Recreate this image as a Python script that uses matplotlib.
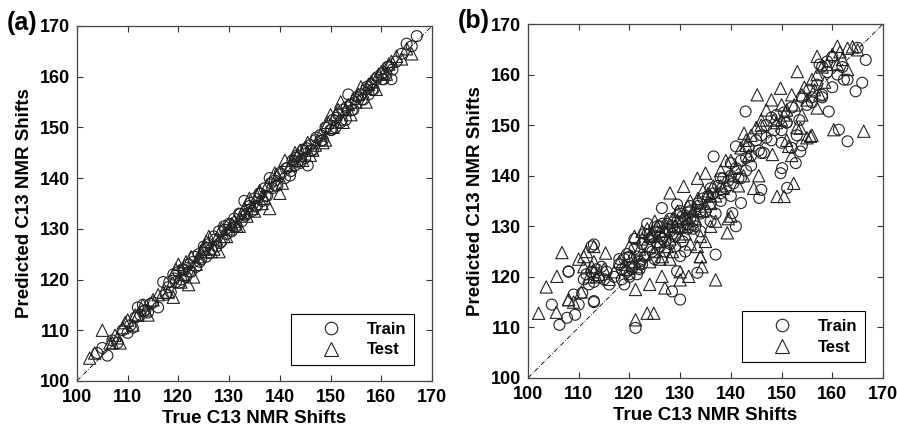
import matplotlib

matplotlib.use("Agg")
import matplotlib.pyplot as plt  # noqa: E402
from matplotlib.lines import Line2D  # noqa: E402

plt.rcParams.update({"font.family": ["Liberation Sans", "DejaVu Sans"],
                     "font.weight": "bold"})

# ---- panel (a): training / test, tight fit ----
a_train_x = [104, 105, 106, 107, 108, 109, 110, 110.5, 111, 111.5, 112, 112.5, 113, 113.5,
             114, 115, 116, 117, 117.5, 118, 118.5, 119, 119.5, 120, 120.5, 121, 121.5, 122,
             122.5, 123, 123.5, 124, 124.5, 125, 125.5, 126, 126.5, 127, 127.5, 128, 128.5,
             129, 129.5, 130, 130.5, 131, 131.5, 132, 132.5, 133, 133.5, 134, 134.5, 135,
             135.5, 136, 136.5, 137, 137.5, 138, 138.5, 139, 139.5, 140, 141, 141.5, 142,
             142.5, 143, 143.5, 144, 144.5, 145, 145.5, 146, 146.5, 147, 148, 148.5, 149, 150,
             150.5, 151, 151.5, 152, 152.5, 153, 153.5, 154, 154.5, 155, 156, 156.5, 157,
             157.5, 158, 158.5, 159, 160, 160.5, 161, 161.5, 162, 163, 164, 165, 166, 167,
             113.2, 114.5, 118.2, 119.2, 120.2, 120.8, 121.2, 122.2, 123.2, 124.2, 125.2,
             126.2, 127.2, 128.2, 129.2, 130.2, 131.2, 132.2, 133.2, 134.2, 135.2, 136.2,
             137.2, 138.2, 139.2, 140.2, 141.2, 142.2, 143.2, 144.2, 145.2, 146.2, 147.2,
             148.2, 149.2, 150.2, 151.2, 152.2, 153.2, 154.2, 155.2, 156.2, 157.2, 158.2,
             159.2, 160.2, 161.2, 162.2]
a_train_y = [105.5, 106.5, 105.0, 108.0, 107.5, 110.0, 109.5, 111.0, 110.5, 112.5, 114.5,
             113.0, 115.0, 114.0, 113.5, 115.5, 114.5, 119.5, 117.0, 118.5, 117.5, 121.0,
             119.5, 121.5, 120.0, 122.0, 120.5, 123.0, 121.5, 123.5, 122.5, 125.0, 124.0,
             126.5, 124.5, 127.0, 126.0, 128.5, 126.5, 129.5, 127.5, 130.5, 129.0, 131.0,
             129.5, 132.0, 130.5, 133.0, 131.5, 135.5, 133.0, 134.5, 133.5, 136.0, 134.5,
             137.0, 135.5, 138.0, 136.5, 140.0, 138.0, 139.5, 138.5, 141.0, 140.0, 142.0,
             140.5, 143.5, 142.5, 144.5, 143.0, 145.5, 144.0, 142.5, 146.5, 145.5, 147.5,
             148.5, 147.5, 150.0, 149.5, 151.5, 150.0, 152.5, 151.0, 153.5, 151.5, 156.5,
             154.5, 153.5, 155.5, 156.5, 155.5, 157.5, 156.5, 158.5, 157.5, 159.5, 160.5,
             159.5, 160.5, 162.0, 159.5, 163.0, 164.5, 166.5, 166.0, 168.0,
             113.8, 115.2, 119.5, 120.2, 119.4, 122.0, 121.8, 121.6, 124.5, 123.5, 126.0,
             125.2, 127.9, 127.2, 129.8, 130.8, 130.4, 132.9, 132.6, 135.1, 134.4, 136.9,
             136.5, 139.0, 138.5, 140.8, 141.9, 141.4, 144.0, 143.6, 145.9, 145.5, 148.0,
             147.4, 149.9, 149.5, 151.9, 151.4, 154.0, 153.4, 156.0, 155.5, 158.0, 157.4,
             159.9, 159.5, 161.9, 161.4]

a_test_x = [102.5, 103.5, 105, 106.5, 107, 107.5, 108, 108.5, 109.5, 110, 111, 112, 113, 114,
            115, 116, 118, 119, 120, 121, 122, 122.5, 123, 124, 125, 126, 127, 128, 129, 130,
            131, 132, 133, 134, 135, 136, 137, 138, 139, 140, 141, 142, 143, 144, 145, 146,
            147, 148, 149, 150, 151, 152, 153, 154, 155, 156, 157, 158, 159, 160, 161, 162,
            163, 164, 165, 166, 127.5, 133.5, 144.5, 152.5, 148.5,
            109, 111.5, 113.5, 117, 119.5, 120.5, 121.5, 123.5, 124.5, 125.5, 126.5, 128.5,
            129.5, 130.5, 131.5, 132.5, 134.5, 135.5, 136.5, 137.5, 139.5, 140.5, 142.5,
            143.5, 145.5, 146.5, 149.5, 150.5, 151.5, 153.5, 155.5, 157.5, 159.5, 161.5]
a_test_y = [104.5, 105.5, 110.0, 107.5, 107.5, 109.0, 108.5, 107.5, 111.5, 112.0, 111.0,
            113.0, 115.0, 113.0, 116.0, 117.0, 117.5, 116.5, 123.0, 121.0, 119.0, 124.5,
            120.5, 124.5, 126.0, 128.5, 126.0, 125.5, 128.5, 130.0, 131.5, 130.5, 134.0,
            136.0, 133.5, 137.5, 136.0, 134.0, 141.0, 137.0, 143.5, 142.5, 145.0, 145.5,
            146.0, 144.5, 146.5, 148.5, 147.5, 152.5, 152.5, 155.0, 153.5, 152.5, 155.0,
            158.0, 155.0, 159.0, 157.5, 161.0, 160.5, 163.0, 164.0, 163.5, 165.5, 164.5,
            128.0, 132.5, 143.5, 151.0, 147.0,
            110.5, 113, 114, 117.5, 122, 119.5, 123.5, 123, 125.5, 127.5, 125.5, 130,
            128.5, 131, 130.5, 133, 134, 136.5, 135, 138.5, 140.5, 139, 143.5,
            144.5, 147, 145.5, 151, 150, 153.5, 154.5, 156.5, 158.5, 160.5, 162.5]

# ---- panel (b): wider scatter ----
b_train_x = [106.2, 104.7, 107.7, 109.3, 108, 110.7, 113, 113, 121.2, 128.4, 130, 129.4,
             133.4, 137, 141, 140.3, 142, 145.6, 146, 142.9, 136.6, 126.4, 129.4, 141, 149.8,
             150.1, 151.1, 152.8, 153.7, 163, 161.3, 164.6, 165.9, 166.6, 165, 162.3, 159.3,
             159, 158, 130,
             111, 111.5, 112, 112.5, 113, 113.5, 114, 114.5, 115, 115.5, 116, 117, 118, 118.5,
             119, 119.5, 120, 120.5, 121, 121.5, 122, 122.5, 123, 123.5, 124, 124.5, 125,
             125.5, 126, 126.5, 127, 127.5, 128, 128.5, 129, 129.5, 130, 130.5, 131, 131.5,
             132, 132.5, 133, 133.5, 134, 134.5, 135, 135.5, 136, 136.5, 137, 137.5, 138,
             138.5, 139, 139.5, 140, 140.5, 141, 141.5, 142, 143, 143.5, 144, 145, 145.5, 146,
             146.5, 147, 148, 148.5, 149, 150, 150.5, 151, 152, 153, 153.5, 154, 155, 155.5,
             156, 157, 157.5, 158, 159, 160, 161, 162, 163, 108, 109, 110, 112.5, 113, 118,
             119, 120, 121, 122, 123, 125, 126, 127, 128, 129, 130, 131, 132, 134, 136, 138,
             140, 142, 144, 146, 148, 150, 152, 154, 156, 158, 160,
             118.5, 119.5, 120.5, 121.5, 122.5, 123.5, 124.5, 125.5, 126.5, 127.5, 128.5,
             129.5, 130.5, 131.5, 132.5, 133.5, 120, 122, 124, 126, 128, 130, 132, 134, 136,
             138, 140, 143, 147, 151]
b_train_y = [110.5, 114.5, 111.9, 112.5, 121.1, 116.8, 115.2, 126.4, 109.9, 117.1, 115.5,
             121.1, 120.8, 124.4, 130, 132.6, 134.6, 135.6, 137.2, 152.7, 143.8, 133.6, 134.3,
             145.8, 140.5, 141.5, 137.6, 142.5, 144.8, 146.8, 149.1, 156.7, 158.4, 162.9,
             165.3, 159, 152.7, 162.6, 161.6, 124.1,
             119.5, 120.5, 118.5, 121, 119, 121.5, 120, 122, 119.5, 121, 118.5, 120, 122.5,
             119.5, 123.5, 121, 124, 122, 125.5, 120.5, 123, 126.5, 124, 130.5, 127.5, 125,
             129, 126.5, 128, 130.5, 127, 129.5, 126.5, 130, 128, 131, 129.5, 127, 131.5,
             129.5, 133, 131, 130, 134.5, 132.5, 135.5, 133, 136, 134.5, 136.5, 132.5, 138,
             136.5, 139.5, 137.5, 139, 142.5, 138.5, 141.5, 139.5, 143, 141, 145.5, 144, 147,
             145, 148, 144.5, 150, 151.5, 149, 152, 149, 152.5, 150.5, 153.5, 148, 151, 155.5,
             154, 157, 155.5, 158, 162, 156, 160.5, 157.5, 160, 161.5, 159, 121, 116.5, 114.5,
             126, 115, 123.5, 118.5, 120.5, 127.5, 121.5, 128.5, 123.5, 130, 125, 131.5, 126,
             133, 125, 134, 129, 131, 135, 136, 139.5, 142, 144.5, 147, 146.5, 145.5, 146,
             154.5, 155.5, 163.5,
             121.5, 124.5, 121.5, 124, 122.5, 126, 128, 130, 127.5, 130.5, 128.5,
             129.5, 132, 130.5, 129.5, 134, 120, 122.5, 128.5, 126, 129, 132.5, 131.5, 133,
             137.5, 139.5, 140, 143.5, 147.5, 150.5]

b_test_x = [102.1, 103.6, 106.7, 105.7, 105.6, 108, 111, 113, 115.3, 112.6, 121.2, 123.5,
            124.8, 121.2, 124, 126.4, 127, 130, 131.7, 137, 134.3, 134, 133.4, 139.3, 128,
            130.7, 133.4, 135, 145.2, 148.2, 149.8, 153.1, 149.1, 150.5, 152.4, 166.2, 160.3,
            163, 161, 165, 157, 142.6, 151.4, 157, 153.7, 155.7,
            110, 111, 112, 113, 114, 115, 116, 117, 118, 119, 120, 120.5, 121, 121.5, 122,
            122.5, 123, 123.5, 124, 124.5, 125, 125.5, 126, 126.5, 127, 127.5, 128, 128.5,
            129, 129.5, 130, 130.5, 131, 131.5, 132, 132.5, 133, 133.5, 134, 134.5, 135,
            135.5, 136, 136.5, 137, 138, 138.5, 139, 140, 141, 141.5, 142, 142.5, 143, 143.5,
            144, 144.5, 145, 145.5, 146, 147, 148, 148.5, 149, 150, 150.5, 151, 152, 152.5,
            153, 154, 154.5, 155, 156, 156.5, 157, 157.5, 158, 158.5, 159, 160, 161, 161.5,
            162, 163, 164, 155, 152, 156, 151, 108, 109, 110.5, 113, 124, 126, 128, 130, 132,
            134, 136, 137, 139.5, 140, 135, 113.5, 111.5,
            119, 121, 122.5, 124, 125, 126, 127.5, 128.5, 129.5, 131, 132, 133, 134.5, 136,
            138, 140, 143, 146, 150, 154]
b_test_y = [112.8, 118, 124.8, 120.1, 113, 115.5, 124, 126, 124.7, 122, 111.5, 112.8, 112.8,
            117.5, 118.5, 120.1, 117.8, 119.4, 120.1, 119.4, 122, 124, 126, 128.7, 136.6,
            137.9, 139.5, 140.5, 156, 144.2, 157.3, 160.6, 135.9, 135.9, 138.5, 148.8, 149.1,
            165.2, 165.6, 164.9, 163.6, 148.4, 145.8, 153.4, 149.4, 147.8,
            123.5, 122, 120, 123, 120.5, 121.5, 119.5, 121, 123, 121.5, 126, 124, 128, 122,
            125.5, 127.5, 124.5, 129.5, 126, 128.5, 125, 130, 127, 124, 129, 131, 127.5, 125,
            130, 133, 128, 131.5, 128.5, 134, 130.5, 133, 131.5, 135.5, 128, 137, 134, 136.5,
            134.5, 138, 136, 141, 137.5, 143, 140, 141.5, 138, 145.5, 140, 147, 144, 148,
            137.5, 149.5, 140, 151, 153, 155, 151, 150.5, 154, 152, 153, 156, 154, 149.5, 152,
            157.5, 155, 159, 157, 160, 156, 161.5, 158.5, 162, 164, 162, 164.5, 163, 161,
            165.5, 147.5, 144, 148, 147, 115.5, 115, 117, 121, 123, 123.5, 123.5, 121, 126.5,
            124, 130, 131, 131.5, 132, 127, 120, 125,
            122.5, 123, 129, 128, 131, 129, 126, 131.5, 131, 130, 135, 133.5, 133, 136,
            138, 143, 146, 150, 151, 156]

AX_MIN, AX_MAX = 100, 170
TICKS = [100, 110, 120, 130, 140, 150, 160, 170]


def draw_panel(fig, rect, tx, ty, sx, sy, tag):
    ax = fig.add_axes(rect)
    ax.plot([AX_MIN, AX_MAX], [AX_MIN, AX_MAX], color="black", lw=0.6,
            linestyle=(0, (6, 2, 1, 2)), zorder=1)
    ax.scatter(tx, ty, s=62, marker="o", facecolors="none", edgecolors="#222222",
               linewidths=0.8, zorder=2)
    ax.scatter(sx, sy, s=78, marker="^", facecolors="none", edgecolors="#222222",
               linewidths=0.8, zorder=3)
    ax.set_xlim(AX_MIN, AX_MAX)
    ax.set_ylim(AX_MIN, AX_MAX)
    ax.set_xticks(TICKS)
    ax.set_yticks(TICKS)
    ax.tick_params(direction="in", top=True, right=True, length=4, width=0.8,
                   labelsize=13, color="#333333")
    ax.tick_params(axis="x", pad=6)
    ax.tick_params(axis="y", pad=5)
    for lab in ax.get_xticklabels() + ax.get_yticklabels():
        lab.set_fontweight("bold")
    for sp in ax.spines.values():
        sp.set_linewidth(0.9)
        sp.set_color("#444444")
    ax.set_xlabel("True C13 NMR Shifts", fontsize=13.5, fontweight="bold", labelpad=3)
    ax.set_ylabel("Predicted C13 NMR Shifts", fontsize=13.5, fontweight="bold", labelpad=5)

    handles = [Line2D([], [], marker="o", ls="none", mfc="none", mec="#222222", ms=9,
                      mew=0.8, label="Train"),
               Line2D([], [], marker="^", ls="none", mfc="none", mec="#222222", ms=9.5,
                      mew=0.8, label="Test")]
    leg = ax.legend(handles=handles, loc="lower right", bbox_to_anchor=(0.95, 0.045),
                    fancybox=False, edgecolor="black", framealpha=1, fontsize=12,
                    handletextpad=0.2, borderpad=0.45, labelspacing=0.35,
                    borderaxespad=0, handlelength=3.9)
    leg.get_frame().set_linewidth(0.8)
    for t in leg.get_texts():
        t.set_fontweight("bold")
    fig.text(rect[0] - 0.078, rect[1] + rect[3] + 0.035, tag, fontsize=18,
             fontweight="bold", va="top", ha="left")
    return ax


fig = plt.figure(figsize=(8.97, 4.29), dpi=100)
draw_panel(fig, [0.0858, 0.112, 0.3958, 0.8275], a_train_x, a_train_y,
           a_test_x, a_test_y, "(a)")
draw_panel(fig, [0.5886, 0.119, 0.3958, 0.825], b_train_x, b_train_y,
           b_test_x, b_test_y, "(b)")
fig.savefig("out.png", dpi=100)
